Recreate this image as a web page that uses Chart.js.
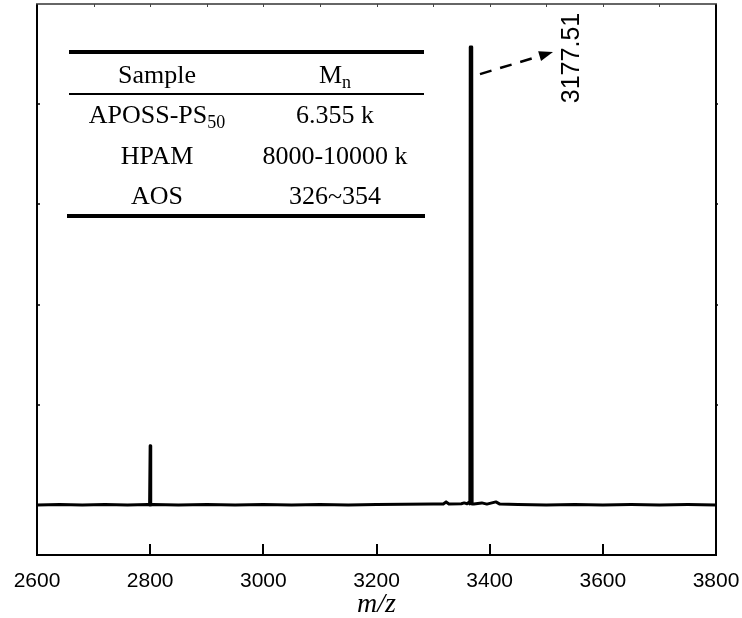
<!DOCTYPE html>
<html>
<head>
<meta charset="utf-8">
<script src="https://cdn.jsdelivr.net/npm/chart.js@4/dist/chart.umd.min.js"></script>
<style>
  html, body { margin: 0; padding: 0; background: #fff; }
  canvas { display: block; }
</style>
</head>
<body>
<canvas id="spectrum" width="742" height="618"></canvas>
<script>
// MALDI-TOF spectrum of APOSS-PS50 (relative intensity vs m/z)
const mzValues = [
  2600, 2640, 2680, 2720, 2760, 2796, 2799, 2800, 2801, 2805,
  2850, 2900, 2950, 3000, 3050, 3100, 3150, 3200, 3250, 3300,
  3318, 3323, 3328, 3350, 3355, 3360, 3363, 3365, 3365.7, 3368.3,
  3369, 3372, 3386, 3395, 3411, 3418, 3450, 3500, 3550, 3600,
  3650, 3700, 3750, 3800
];
const intensities = [
  0, 0.004, 0, 0.005, 0, 0.003, 0, 0.59, 0, 0.003,
  0, 0.005, 0, 0.004, 0, 0.005, 0, 0.004, 0.006, 0.008,
  0.01, 0.03, 0.01, 0.012, 0.02, 0.012, 0.025, 0.01, 4.57, 4.57,
  0.01, 0.01, 0.02, 0.008, 0.03, 0.008, 0.004, 0, 0.004, 0,
  0.003, 0, 0.003, 0
];

// axis ticks
const xTickValues = [2600, 2800, 3000, 3200, 3400, 3600, 3800];
const xMinorTicks = [2700, 2800, 2900, 3000, 3100, 3200, 3300, 3400, 3500, 3600, 3700];
const yTickValues = [1, 2, 3, 4];

// inset table
const tableHeader = ['Sample', 'M', 'n'];
const sampleNames = [['APOSS-PS', '50'], ['HPAM', ''], ['AOS', '']];
const sampleMn = ['6.355 k', '8000-10000 k', '326~354'];

// annotated peak
const peakMz = 3367;
const peakLabel = '3177.51';

const SERIF = '"Liberation Serif", "Times New Roman", serif';
const SANS = '"Liberation Sans", Arial, sans-serif';

function textWithSub(ctx, main, sub, cx, baseY, size, subSize) {
  ctx.font = size + 'px ' + SERIF;
  const w1 = ctx.measureText(main).width;
  ctx.font = subSize + 'px ' + SERIF;
  const w2 = sub ? ctx.measureText(sub).width : 0;
  const x0 = cx - (w1 + w2) / 2;
  ctx.textAlign = 'left';
  ctx.textBaseline = 'alphabetic';
  ctx.font = size + 'px ' + SERIF;
  ctx.fillText(main, x0, baseY);
  if (sub) {
    ctx.font = subSize + 'px ' + SERIF;
    ctx.fillText(sub, x0 + w1, baseY + 5);
  }
}

const decorations = {
  id: 'decorations',
  afterDraw(chart) {
    const { ctx, chartArea: a, scales: { x, y } } = chart;
    ctx.save();
    ctx.lineCap = 'butt';

    // plot frame
    ctx.strokeStyle = '#000';
    ctx.lineWidth = 2;
    ctx.beginPath();
    ctx.moveTo(a.left, a.top);
    ctx.lineTo(a.left, a.bottom);
    ctx.lineTo(a.right, a.bottom);
    ctx.lineTo(a.right, a.top);
    ctx.stroke();
    ctx.strokeStyle = '#333';
    ctx.lineWidth = 1.5;
    ctx.beginPath();
    ctx.moveTo(a.left - 1, a.top);
    ctx.lineTo(a.right + 1, a.top);
    ctx.stroke();

    // inward major ticks on the bottom axis
    ctx.strokeStyle = '#000';
    ctx.lineWidth = 2;
    xTickValues.forEach(v => {
      const px = Math.round(x.getPixelForValue(v));
      ctx.beginPath();
      ctx.moveTo(px, a.bottom);
      ctx.lineTo(px, a.bottom - 11);
      ctx.stroke();
    });

    // short minor ticks along the top edge
    ctx.strokeStyle = '#444';
    ctx.lineWidth = 1;
    xMinorTicks.forEach(v => {
      const px = Math.round(x.getPixelForValue(v)) + 0.5;
      ctx.beginPath();
      ctx.moveTo(px, a.top);
      ctx.lineTo(px, a.top + 3);
      ctx.stroke();
    });

    // short ticks on left and right edges
    ctx.strokeStyle = '#000';
    ctx.lineWidth = 1.5;
    yTickValues.forEach(v => {
      const py = Math.round(y.getPixelForValue(v));
      ctx.beginPath();
      ctx.moveTo(a.left, py);
      ctx.lineTo(a.left + 3, py);
      ctx.moveTo(a.right, py);
      ctx.lineTo(a.right + 2, py);
      ctx.stroke();
    });

    // dashed arrow pointing at the peak label
    const peakPx = x.getPixelForValue(peakMz);
    const x0 = peakPx + 9, y0 = y.getPixelForValue(4.3);
    const x1 = peakPx + 82, y1 = y.getPixelForValue(4.52);
    const ang = Math.atan2(y1 - y0, x1 - x0);
    const headLen = 14, headHalf = 5;
    const bx = x1 - headLen * Math.cos(ang), by = y1 - headLen * Math.sin(ang);
    ctx.strokeStyle = '#000';
    ctx.lineWidth = 2.5;
    ctx.setLineDash([12, 9]);
    ctx.beginPath();
    ctx.moveTo(x0, y0);
    ctx.lineTo(bx, by);
    ctx.stroke();
    ctx.setLineDash([]);
    ctx.fillStyle = '#000';
    ctx.beginPath();
    ctx.moveTo(x1, y1);
    ctx.lineTo(bx + headHalf * Math.sin(ang), by - headHalf * Math.cos(ang));
    ctx.lineTo(bx - headHalf * Math.sin(ang), by + headHalf * Math.cos(ang));
    ctx.closePath();
    ctx.fill();

    // rotated peak label
    ctx.save();
    ctx.translate(peakPx + 101, 58);
    ctx.rotate(-Math.PI / 2);
    ctx.font = '25px ' + SANS;
    ctx.textAlign = 'center';
    ctx.textBaseline = 'middle';
    ctx.fillText(peakLabel, 0, 0);
    ctx.restore();

    // inset table
    const col1 = 157, col2 = 335;
    ctx.strokeStyle = '#000';
    ctx.lineWidth = 4;
    ctx.beginPath();
    ctx.moveTo(69, 52); ctx.lineTo(424, 52);
    ctx.moveTo(67, 216); ctx.lineTo(425, 216);
    ctx.stroke();
    ctx.lineWidth = 2;
    ctx.beginPath();
    ctx.moveTo(69, 94); ctx.lineTo(424, 94);
    ctx.stroke();

    ctx.fillStyle = '#000';
    textWithSub(ctx, tableHeader[0], '', col1, 83, 26, 18);
    textWithSub(ctx, tableHeader[1], tableHeader[2], col2, 83, 26, 18);
    const rowBase = [123, 164, 204];
    sampleNames.forEach((nm, i) => {
      textWithSub(ctx, nm[0], nm[1], col1, rowBase[i], 26, 18);
      textWithSub(ctx, sampleMn[i], '', col2, rowBase[i], 26, 18);
    });

    ctx.restore();
  }
};

new Chart(document.getElementById('spectrum'), {
  type: 'line',
  data: {
    datasets: [{
      data: mzValues.map((m, i) => ({ x: m, y: intensities[i] })),
      borderColor: '#000',
      borderWidth: 3,
      pointRadius: 0,
      tension: 0,
      fill: false,
      borderJoinStyle: 'round'
    }]
  },
  options: {
    responsive: false,
    animation: false,
    devicePixelRatio: 1,
    layout: { padding: { left: 37, right: 26, top: 4, bottom: 0 } },
    plugins: { legend: { display: false }, tooltip: { enabled: false } },
    scales: {
      x: {
        type: 'linear',
        position: 'bottom',
        min: 2600,
        max: 3800,
        afterBuildTicks: scale => { scale.ticks = xTickValues.map(v => ({ value: v })); },
        afterFit: scale => {
          scale.height = 63;
          scale.paddingLeft = 0;
          scale.paddingRight = 0;
        },
        grid: { display: false },
        border: { display: false },
        ticks: {
          color: '#000',
          font: { family: SANS, size: 21 },
          padding: 6,
          maxRotation: 0,
          autoSkip: false,
          callback: v => String(v)
        },
        title: {
          display: true,
          text: 'm/z',
          color: '#000',
          font: { family: SERIF, size: 28, style: 'italic' },
          padding: { top: 0, bottom: -3 }
        }
      },
      y: {
        type: 'linear',
        display: false,
        min: -0.5,
        max: 5
      }
    }
  },
  plugins: [decorations]
});
</script>
</body>
</html>
